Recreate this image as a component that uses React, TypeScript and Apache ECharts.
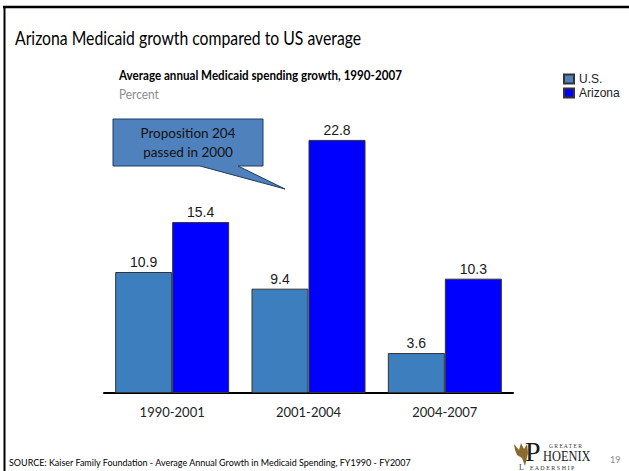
import React, { useEffect, useRef } from "react";
import * as echarts from "echarts";

const categories = ["1990-2001", "2001-2004", "2004-2007"];
const usValues = [10.9, 9.4, 3.6];
const azValues = [15.4, 22.8, 10.3];
const seriesNames = ["U.S.", "Arizona"];

const titleText = "Arizona Medicaid growth compared to US average";
const chartTitle = "Average annual Medicaid spending growth, 1990-2007";
const unitText = "Percent";
const calloutLines = "Proposition 204\npassed in 2000";
const sourceText =
  "SOURCE: Kaiser Family Foundation - Average Annual Growth in Medicaid Spending, FY1990 - FY2007";
const pageNumber = "19";

const US_COLOR = "#3D7EBF";
const AZ_COLOR = "#0000FF";

export default function App() {
  const ref = useRef<HTMLDivElement>(null);
  useEffect(() => {
    if (!ref.current) return;
    const chart = echarts.init(ref.current, null, { renderer: "svg" });
    const sans = "Lato, 'Noto Sans', sans-serif";
    const arial = "'Liberation Sans', Arial, sans-serif";
    const serif = "'Liberation Serif', 'DejaVu Serif', serif";
    const valueLabel = {
      show: true,
      position: "top",
      distance: 3,
      fontFamily: arial,
      fontSize: 14,
      color: "#1a1a1a",
      formatter: (p: any) => Number(p.value).toFixed(1),
    };
    chart.setOption({
      animation: false,
      backgroundColor: "#ffffff",
      grid: { left: 104, right: 116, top: 115.5, bottom: 78 },
      legend: {
        orient: "vertical",
        left: 563,
        top: 72,
        padding: 0,
        itemWidth: 10,
        itemHeight: 9,
        itemGap: 0,
        icon: "rect",
        textStyle: { fontFamily: arial, fontSize: 12, color: "#222", lineHeight: 14 },
        data: [
          { name: seriesNames[0], itemStyle: { color: "#4F81BD" } },
          { name: seriesNames[1] },
        ],
      },
      xAxis: {
        type: "category",
        data: categories,
        axisLine: { lineStyle: { color: "#000", width: 2 } },
        axisTick: { show: false },
        axisLabel: { fontFamily: sans, fontSize: 13, color: "#222", margin: 12 },
      },
      yAxis: { type: "value", min: 0, max: 25, show: false, splitLine: { show: false } },
      series: [
        {
          name: seriesNames[0],
          type: "bar",
          data: usValues,
          barWidth: 57,
          barGap: "0%",
          itemStyle: { color: US_COLOR, borderColor: "#333", borderWidth: 1 },
          label: valueLabel,
        },
        {
          name: seriesNames[1],
          type: "bar",
          data: azValues,
          barWidth: 57,
          barGap: "0%",
          itemStyle: { color: AZ_COLOR, borderColor: "#333", borderWidth: 1 },
          label: valueLabel,
        },
      ],
      graphic: [
        { type: "line", shape: { x1: 3, y1: 7, x2: 629, y2: 7 }, style: { stroke: "#000", lineWidth: 2.5 } },
        { type: "line", shape: { x1: 4.5, y1: 6, x2: 4.5, y2: 471 }, style: { stroke: "#000", lineWidth: 2 } },
        {
          type: "text",
          x: 15,
          y: 38,
          scaleX: 0.83,
          style: { text: titleText, font: `19px ${sans}`, fill: "#000", textVerticalAlign: "middle" },
        },
        {
          type: "text",
          x: 119,
          y: 75,
          scaleX: 0.93,
          style: { text: chartTitle, font: `bold 12.5px ${sans}`, fill: "#000", textVerticalAlign: "middle" },
        },
        {
          type: "text",
          x: 119,
          y: 94,
          scaleX: 0.95,
          style: { text: unitText, font: `12.5px ${sans}`, fill: "#8c8c8c", textVerticalAlign: "middle" },
        },
        {
          type: "polygon",
          shape: {
            points: [
              [113, 119],
              [263, 119],
              [263, 166],
              [238, 166],
              [285, 189],
              [200, 166],
              [113, 166],
            ],
          },
          style: { fill: "#4F81BD", stroke: "#1F3A5F", lineWidth: 1 },
        },
        {
          type: "text",
          x: 188,
          y: 142.5,
          style: {
            text: calloutLines,
            font: `13.5px ${sans}`,
            fill: "#111",
            textAlign: "center",
            textVerticalAlign: "middle",
            lineHeight: 19,
          },
        },
        {
          type: "text",
          x: 9,
          y: 462,
          scaleX: 0.946,
          style: { text: sourceText, font: `9.5px ${sans}`, fill: "#000", textVerticalAlign: "middle" },
        },
        // logo
        {
          type: "polygon",
          shape: {
            points: [
              [514, 444], [519, 450], [521, 443], [524, 449], [527, 444], [528, 453],
              [525, 466], [522, 458], [517, 455], [515, 450],
            ],
          },
          style: { fill: "#8a6a2e" },
        },
        {
          type: "text",
          x: 525,
          y: 465,
          style: { text: "P", font: `28px ${serif}`, fill: "#1a1a1a", textVerticalAlign: "bottom" },
        },
        {
          type: "text",
          x: 543,
          y: 463,
          scaleX: 0.8,
          style: { text: "HOENIX", font: `15.5px ${serif}`, fill: "#1a1a1a", textVerticalAlign: "bottom" },
        },
        {
          type: "text",
          x: 549,
          y: 446,
          style: { text: "G R E A T E R", font: `5.5px ${serif}`, fill: "#333", textVerticalAlign: "middle" },
        },
        {
          type: "text",
          x: 519,
          y: 467.5,
          style: { text: "L", font: `8px ${serif}`, fill: "#333", textVerticalAlign: "middle" },
        },
        {
          type: "text",
          x: 530,
          y: 468,
          style: { text: "E A D E R S H I P", font: `6px ${serif}`, fill: "#333", textVerticalAlign: "middle" },
        },
        {
          type: "text",
          x: 610,
          y: 459,
          style: { text: pageNumber, font: `9px ${sans}`, fill: "#8c8c8c", textVerticalAlign: "middle" },
        },
      ],
    });
    return () => chart.dispose();
  }, []);
  return (
    <div
      ref={ref}
      style={{ position: "absolute", left: 0, top: 0, width: 629, height: 471 }}
    />
  );
}
